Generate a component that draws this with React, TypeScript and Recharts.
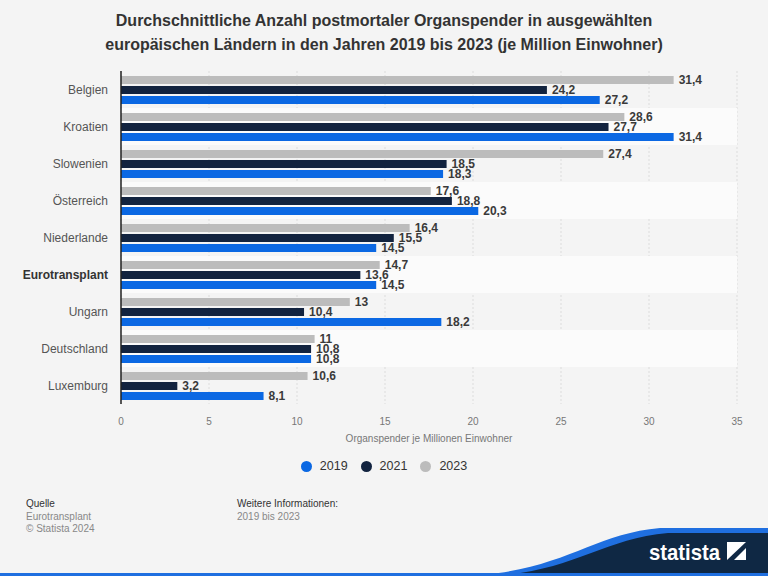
import React from 'react';
import {
  BarChart,
  Bar,
  XAxis,
  YAxis,
  CartesianGrid,
  LabelList,
  ReferenceArea
} from 'recharts';

const categories = [
  'Belgien',
  'Kroatien',
  'Slowenien',
  'Österreich',
  'Niederlande',
  'Eurotransplant',
  'Ungarn',
  'Deutschland',
  'Luxemburg'
];
const values2019 = [27.2, 31.4, 18.3, 20.3, 14.5, 14.5, 18.2, 10.8, 8.1];
const values2021 = [24.2, 27.7, 18.5, 18.8, 15.5, 13.6, 10.4, 10.8, 3.2];
const values2023 = [31.4, 28.6, 27.4, 17.6, 16.4, 14.7, 13, 11, 10.6];
const xTicks = [0, 5, 10, 15, 20, 25, 30, 35];

const BLUE = '#0b68e3';
const NAVY = '#12233f';
const GRAY = '#bcbcbc';
const FONT = '"Liberation Sans", Arial, sans-serif';

const data = categories.map((name, i) => ({
  name,
  y2019: values2019[i],
  y2021: values2021[i],
  y2023: values2023[i]
}));

const fmt = (v: any) => String(v).replace('.', ',');

const CategoryTick = (props: any) => {
  const { x, y, payload } = props;
  const bold = payload.value === 'Eurotransplant';
  return (
    <text
      x={x}
      y={y}
      dy={4}
      textAnchor="end"
      fontSize={12}
      fontFamily={FONT}
      fontWeight={bold ? 'bold' : 'normal'}
      fill={bold ? '#333' : '#555'}
    >
      {payload.value}
    </text>
  );
};

const labelProps = {
  position: 'right' as const,
  offset: 5,
  formatter: fmt,
  style: { fontSize: 12, fontWeight: 'bold', fill: '#3a3a3a', fontFamily: FONT }
};

const legendItems = [
  { label: '2019', color: BLUE },
  { label: '2021', color: NAVY },
  { label: '2023', color: GRAY }
];

export default function App() {
  return (
    <div
      style={{
        position: 'absolute',
        left: 0,
        top: 0,
        width: 768,
        height: 576,
        background: '#f4f4f4',
        fontFamily: FONT,
        overflow: 'hidden'
      }}
    >
      <div
        style={{
          position: 'absolute',
          top: 9,
          left: 0,
          width: 768,
          textAlign: 'center',
          fontSize: 16,
          fontWeight: 'bold',
          lineHeight: '24px',
          color: '#333'
        }}
      >
        Durchschnittliche Anzahl postmortaler Organspender in ausgewählten
        <br />
        europäischen Ländern in den Jahren 2019 bis 2023 (je Million Einwohner)
      </div>

      <div style={{ position: 'absolute', left: 0, top: 0 }}>
        <BarChart
          width={768}
          height={434}
          data={data}
          layout="vertical"
          margin={{ top: 71, right: 31, bottom: 0, left: 0 }}
          barSize={8}
          barGap={2}
        >
          {categories.map((c, i) =>
            i % 2 === 1 ? (
              <ReferenceArea
                key={c}
                y1={c}
                y2={c}
                fill="#fbfbfb"
                fillOpacity={1}
                stroke="none"
                ifOverflow="visible"
              />
            ) : null
          )}
          <CartesianGrid horizontal={false} stroke="#dcdcdc" strokeDasharray="2 2" />
          <XAxis
            type="number"
            domain={[0, 35]}
            ticks={xTicks}
            axisLine={false}
            tickLine={false}
            tickMargin={8}
            height={30}
            tick={{ fontSize: 10, fill: '#777', fontFamily: FONT }}
          />
          <YAxis
            type="category"
            dataKey="name"
            width={121}
            tickLine={false}
            tickSize={0}
            tickMargin={13}
            axisLine={{ stroke: '#222', strokeWidth: 1.5 }}
            tick={<CategoryTick />}
          />
          <Bar dataKey="y2023" fill={GRAY} isAnimationActive={false}>
            <LabelList dataKey="y2023" {...labelProps} />
          </Bar>
          <Bar dataKey="y2021" fill={NAVY} isAnimationActive={false}>
            <LabelList dataKey="y2021" {...labelProps} />
          </Bar>
          <Bar dataKey="y2019" fill={BLUE} isAnimationActive={false}>
            <LabelList dataKey="y2019" {...labelProps} />
          </Bar>
        </BarChart>
      </div>

      <div
        style={{
          position: 'absolute',
          top: 433,
          left: 121,
          width: 616,
          textAlign: 'center',
          fontSize: 10,
          color: '#777'
        }}
      >
        Organspender je Millionen Einwohner
      </div>

      <div
        style={{
          position: 'absolute',
          top: 459,
          left: 0,
          width: 768,
          display: 'flex',
          justifyContent: 'center',
          gap: 13,
          fontSize: 12.5,
          color: '#333'
        }}
      >
        {legendItems.map(item => (
          <div key={item.label} style={{ display: 'flex', alignItems: 'center' }}>
            <span
              style={{
                display: 'inline-block',
                width: 11,
                height: 11,
                borderRadius: '50%',
                background: item.color,
                marginRight: 8
              }}
            />
            {item.label}
          </div>
        ))}
      </div>

      <div style={{ position: 'absolute', top: 498, left: 26, fontSize: 10, lineHeight: '12.5px' }}>
        <div style={{ color: '#333' }}>Quelle</div>
        <div style={{ color: '#888' }}>Eurotransplant</div>
        <div style={{ color: '#888' }}>© Statista 2024</div>
      </div>
      <div style={{ position: 'absolute', top: 498, left: 237, fontSize: 10, lineHeight: '12.5px' }}>
        <div style={{ color: '#333' }}>Weitere Informationen:</div>
        <div style={{ color: '#888' }}>2019 bis 2023</div>
      </div>

      <svg
        width={768}
        height={80}
        style={{ position: 'absolute', left: 0, top: 496 }}
      >
        <path d="M 460 80 C 560 78, 590 38, 660 32 L 768 32 L 768 80 Z" fill="#1f6fe0" />
        <path d="M 485 80 C 570 78, 600 43, 668 37 L 768 37 L 768 80 Z" fill="#0f2844" />
        <rect x={0} y={77} width={768} height={3} fill="#1f6fe0" />
        <text
          x={649}
          y={64}
          fill="#fff"
          fontSize={22}
          fontWeight="bold"
          fontFamily={FONT}
          textLength={71}
          lengthAdjust="spacingAndGlyphs"
        >
          statista
        </text>
        <rect x={727} y={46} width={19} height={18} fill="#fff" />
        <path d="M 727 64 L 746 46 L 746 52 L 734 64 Z" fill="#0f2844" />
      </svg>
    </div>
  );
}
